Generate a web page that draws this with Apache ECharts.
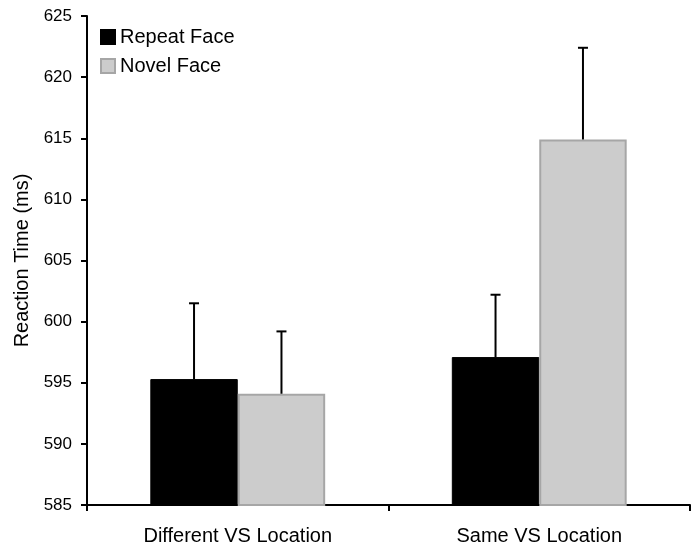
<!DOCTYPE html>
<html><head><meta charset="utf-8">
<script src="https://cdn.jsdelivr.net/npm/echarts@6/dist/echarts.min.js"></script>
<style>html,body{margin:0;padding:0;background:#fff}#c{width:691px;height:546px}</style>
</head><body><div id="c"></div>
<script>
const categories = ['Different VS Location', 'Same VS Location'];
const repeatFace = [595.3, 597.1];
const novelFace = [594.1, 614.9];
const repeatErr = [6.2, 5.1];
const novelErr = [5.1, 7.5];
const yTicks = [585, 590, 595, 600, 605, 610, 615, 620, 625];

const CAT_GAP = 0.42;
const FONT = 'Liberation Sans, Arial, sans-serif';

function errSeries(vals, errs, idx) {
  return {
    type: 'custom',
    silent: true,
    z: 5,
    data: vals.map((v, i) => [i, v, v + errs[i]]),
    renderItem: function (params, api) {
      const c = api.value(0);
      const lo = api.coord([c, api.value(1)]);
      const hi = api.coord([c, api.value(2)]);
      const band = api.size([1, 0])[0];
      const bw = band * (1 - CAT_GAP) / 2;
      const x = lo[0] + (idx - 0.5) * bw;
      const cap = 5;
      const st = { stroke: '#000', lineWidth: 2 };
      return {
        type: 'group',
        children: [
          { type: 'line', shape: { x1: x, y1: lo[1], x2: x, y2: hi[1] }, style: st },
          { type: 'line', shape: { x1: x - cap, y1: hi[1], x2: x + cap, y2: hi[1] }, style: st }
        ]
      };
    }
  };
}

const chart = echarts.init(document.getElementById('c'), null, { renderer: 'canvas' });
chart.setOption({
  animation: false,
  textStyle: { fontFamily: FONT },
  grid: { left: 87, right: 1, top: 16, bottom: 40, containLabel: false },
  legend: {
    orient: 'vertical', left: 100, top: 27, padding: 0,
    itemWidth: 14, itemHeight: 14, itemGap: 9,
    icon: 'rect',
    textStyle: { fontSize: 20, lineHeight: 20, color: '#000', fontFamily: FONT },
    data: ['Repeat Face', 'Novel Face']
  },
  xAxis: {
    type: 'category', data: categories,
    axisLine: { lineStyle: { color: '#000', width: 2 } },
    axisTick: { show: true, length: 6, lineStyle: { color: '#000', width: 2 } },
    axisLabel: { color: '#000', fontSize: 20, margin: 21, fontFamily: FONT },
    splitLine: { show: false }
  },
  yAxis: {
    type: 'value', min: yTicks[0], max: yTicks[yTicks.length - 1], interval: 5,
    name: 'Reaction Time (ms)', nameLocation: 'middle', nameGap: 53,
    nameTextStyle: { fontSize: 20, color: '#000', fontFamily: FONT },
    axisLine: { show: true, lineStyle: { color: '#000', width: 2 } },
    axisTick: { show: true, length: 6, lineStyle: { color: '#000', width: 2 } },
    axisLabel: { color: '#000', fontSize: 17, margin: 15, fontFamily: FONT },
    splitLine: { show: false }
  },
  series: [
    {
      name: 'Repeat Face', type: 'bar', data: repeatFace,
      barGap: '0%', barCategoryGap: (CAT_GAP * 100) + '%',
      itemStyle: { color: '#000', borderColor: '#000', borderWidth: 1 }
    },
    {
      name: 'Novel Face', type: 'bar', data: novelFace,
      itemStyle: { color: '#cccccc', borderColor: '#a6a6a6', borderWidth: 2 }
    },
    errSeries(repeatFace, repeatErr, 0),
    errSeries(novelFace, novelErr, 1)
  ]
});
</script></body></html>
